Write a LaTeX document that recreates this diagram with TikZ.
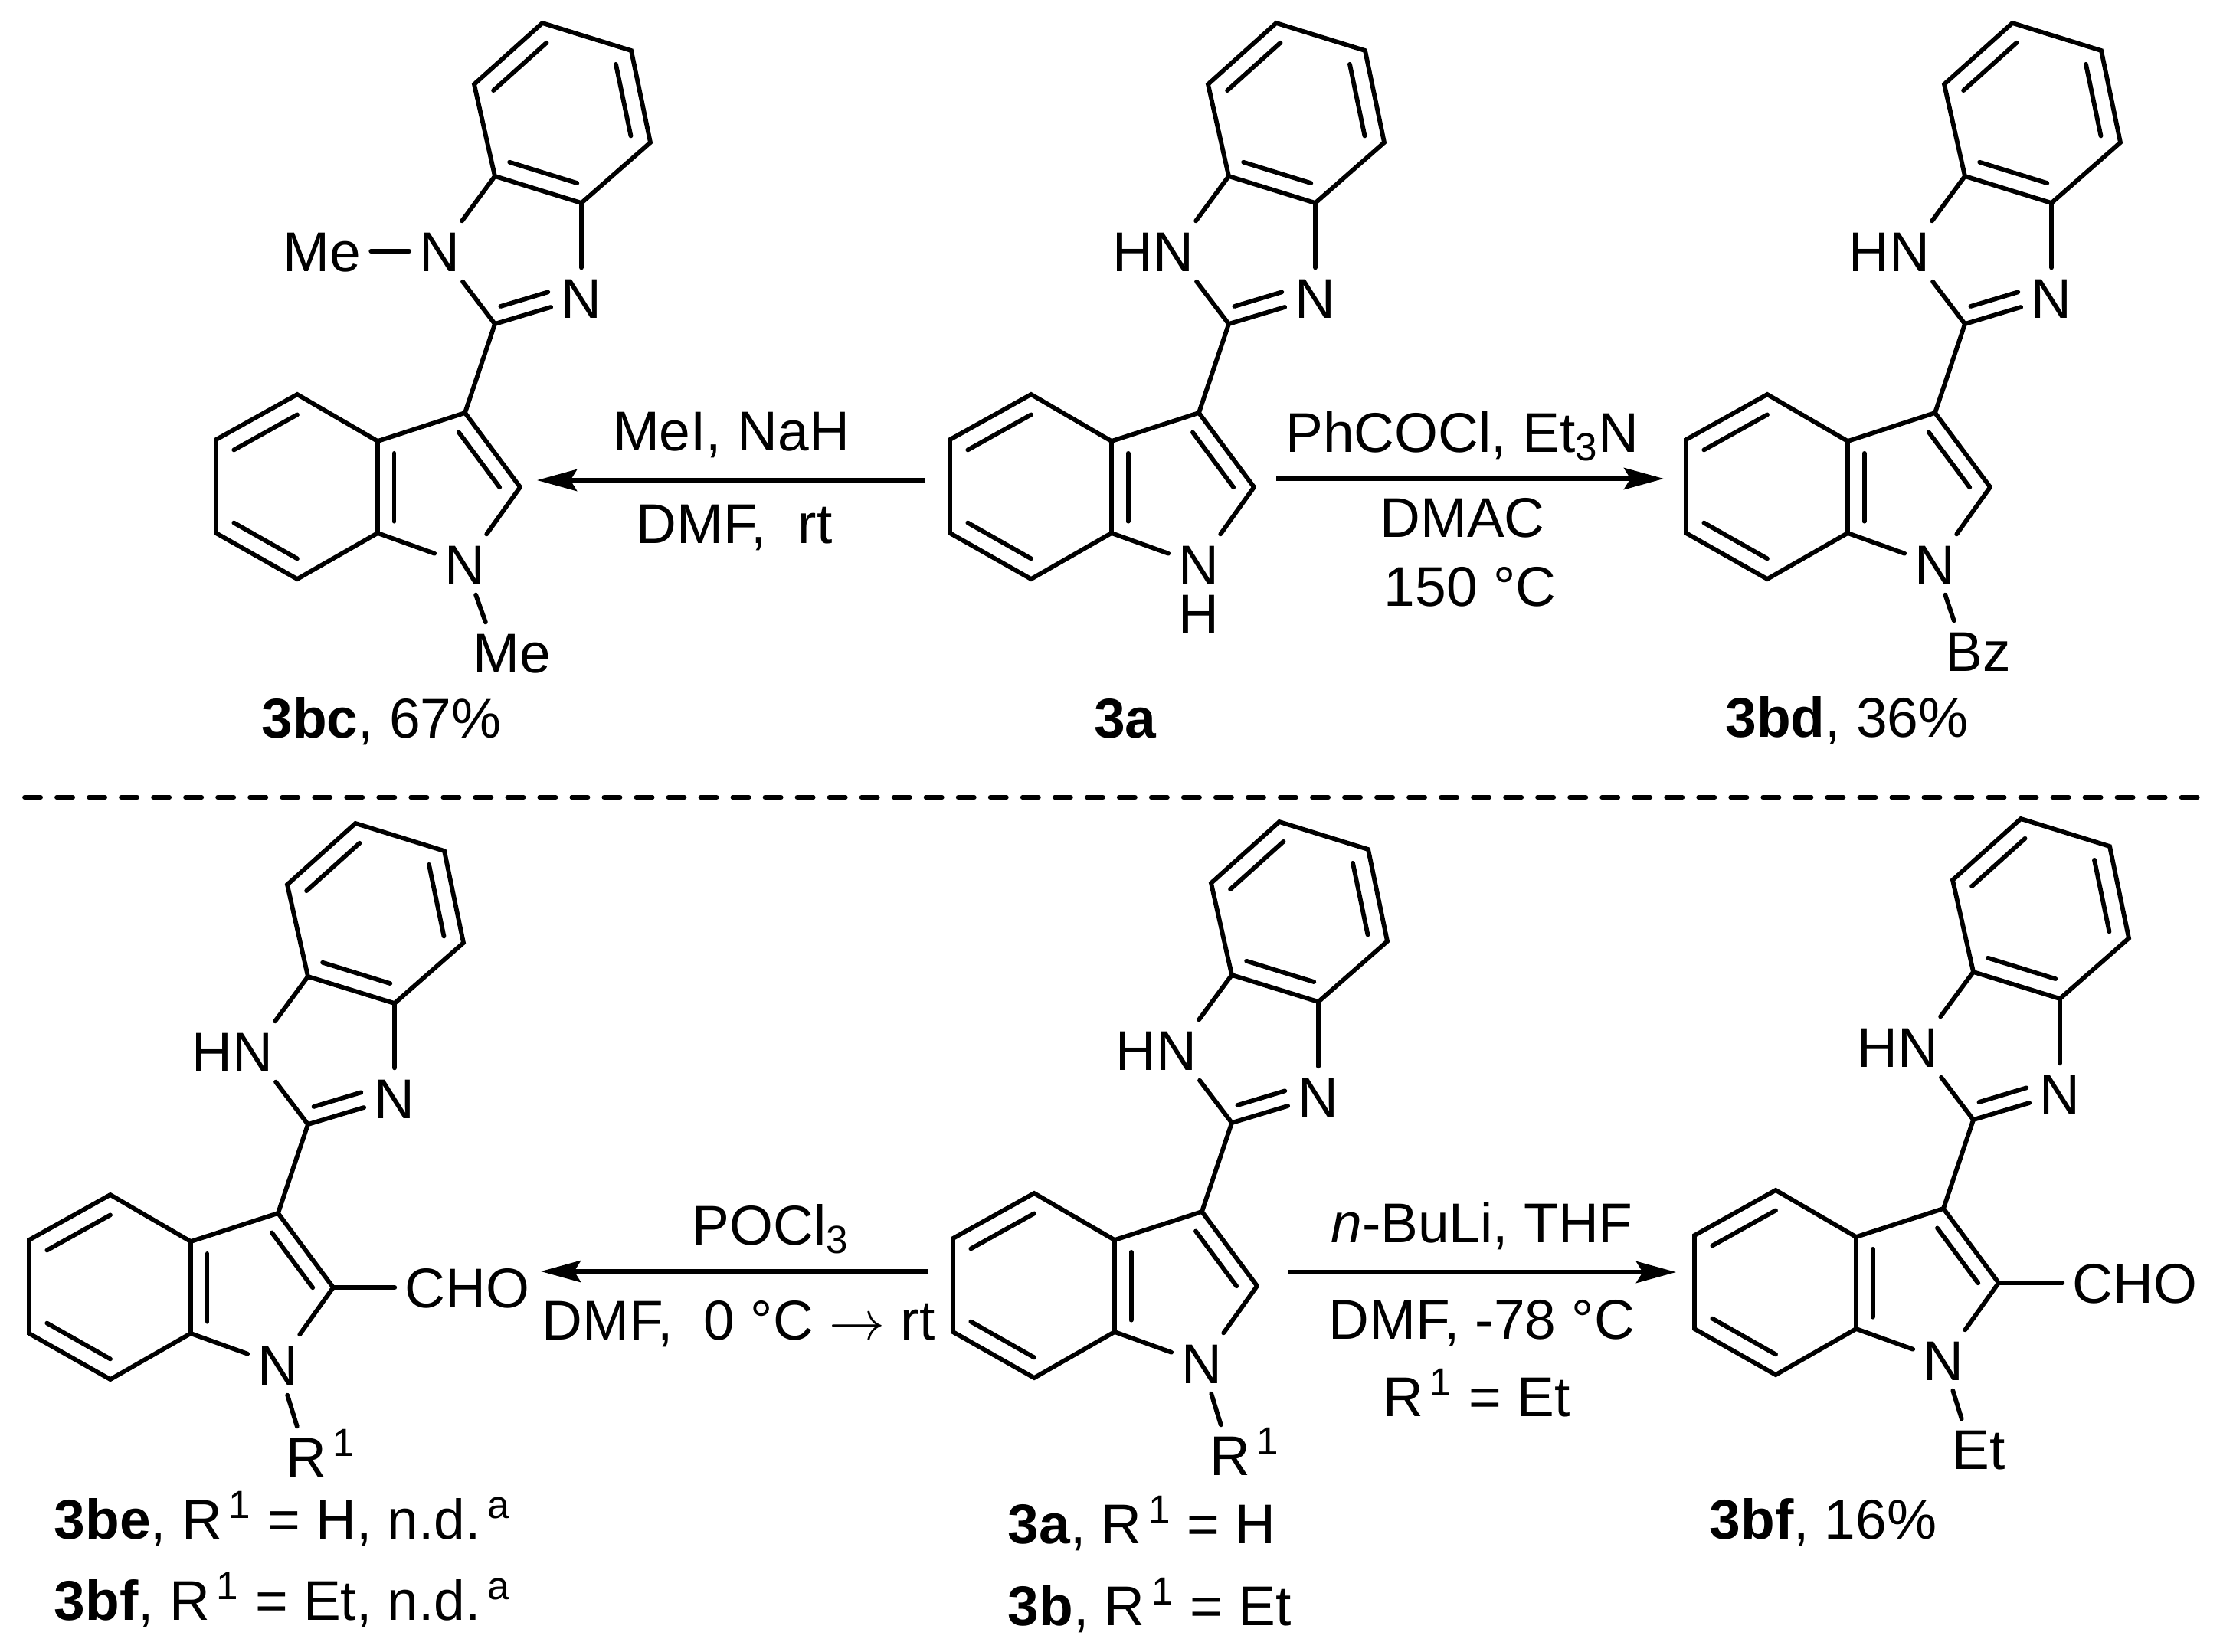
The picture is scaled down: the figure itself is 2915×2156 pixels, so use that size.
\documentclass[tikz,border=0pt]{standalone}
\usepackage{fontspec}
\setmainfont{Liberation Sans}
\usetikzlibrary{arrows.meta,positioning,calc}

\tikzset{
  atom/.style={inner sep=3pt, text height=14.9pt, text depth=0pt},
  lab/.style={inner sep=0pt},
  cond/.style={inner sep=0pt, text height=14.9pt, text depth=0pt},
  rxn/.style={-{Stealth[length=14.8pt,width=8pt,inset=2.4pt]}, line cap=butt},
  divider/.style={line cap=round, dash pattern=on 6pt off 5.95pt},
}

% inner line of a double bond, pulled towards a ring centre
\newcommand{\dbl}[4][.22]{\draw ($(#2)!#1!(#4)$) -- ($(#3)!#1!(#4)$);}

% 2-(indol-3-yl)benzimidazole, drawn at the 3a place and then shifted
\newcommand{\bimindole}[4]{
  \begin{scope}[shift={(#2,#3)}]
    \coordinate (#1-a1) at (1666,30);
    \coordinate (#1-a2) at (1782,66);
    \coordinate (#1-a3) at (1807,186);
    \coordinate (#1-a4) at (1717,265);
    \coordinate (#1-a5) at (1604,230);
    \coordinate (#1-a6) at (1577,110);
    \coordinate (#1-hexa) at (1691,147);
    \coordinate (#1-imid) at (1635,327);
    \node[atom] (#1-n3) at (1717,389) {N};
    \node[atom] (#1-nx) at (1532,328) {#4};
    \coordinate (#1-c2) at (1604,423);
    \coordinate (#1-c3) at (1565,539);
    \coordinate (#1-c3a) at (1451,576);
    \coordinate (#1-c4) at (1346,515);
    \coordinate (#1-c5) at (1240,574);
    \coordinate (#1-c6) at (1240,696);
    \coordinate (#1-c7) at (1346,756);
    \coordinate (#1-c7a) at (1451,696);
    \coordinate (#1-c2i) at (1637,636);
    \coordinate (#1-hexb) at (1346,635);
    \coordinate (#1-pyr) at (1534,637);
    \node[atom] (#1-n1) at (1565,737) {N};
    \draw[line join=miter] (#1-a1) -- (#1-a2) -- (#1-a3) -- (#1-a4) -- (#1-a5) -- (#1-a6) -- cycle;
    \draw (#1-a5) -- (#1-nx);
    \draw (#1-nx) -- (#1-c2);
    \draw (#1-a4) -- (#1-n3);
    \draw (#1-c2) -- (#1-n3);
    \draw (#1-c2) -- (#1-c3);
    \draw[line join=miter] (#1-c3a) -- (#1-c4) -- (#1-c5) -- (#1-c6) -- (#1-c7) -- (#1-c7a) -- cycle;
    \draw[line join=miter] (#1-c3a) -- (#1-c3) -- (#1-c2i);
    \draw (#1-c2i) -- (#1-n1);
    \draw (#1-c7a) -- (#1-n1);
    \dbl{#1-a6}{#1-a1}{#1-hexa}
    \dbl{#1-a2}{#1-a3}{#1-hexa}
    \dbl{#1-a4}{#1-a5}{#1-hexa}
    \dbl{#1-c4}{#1-c5}{#1-hexb}
    \dbl{#1-c6}{#1-c7}{#1-hexb}
    \dbl[.26]{#1-c3a}{#1-c7a}{#1-pyr}
    \dbl[.26]{#1-c3}{#1-c2i}{#1-pyr}
    \coordinate (#1-i1) at ($(#1-c2)!.24!(#1-imid)$);
    \coordinate (#1-i2) at ($(#1-n3)!.24!(#1-imid)$);
    \draw (#1-i1) -- ($(#1-i1)!.72!(#1-i2)$);
  \end{scope}
}

\begin{document}
\begin{tikzpicture}[x=0.01cm, y=-0.01cm, line width=1.65pt, line cap=round, font=\fontsize{20.8}{24}\selectfont]
  \useasboundingbox (0,0) rectangle (2915,2156);

  % top row
  \bimindole{bc}{-958}{0}{N}
  \bimindole{a}{0}{0}{\llap{H}N}
  \bimindole{bd}{961}{0}{\llap{H}N}

  \node[atom] (bc-me) at (420,328) {Me};
  \draw (bc-me) -- (bc-nx);
  \node[atom] (bc-r) at ($(bc-n1)+(41,115)$) {M\rlap{e}};
  \draw (bc-n1) -- (bc-r);
  \node[atom] (a-h) at ($(a-n1)+(0,64)$) {H};
  \node[atom] (bd-r) at ($(bd-n1)+(38,113)$) {B\rlap{z}};
  \draw (bd-n1) -- (bd-r);

  \node[lab, anchor=base] (bc-lab) at (498,963) {\textbf{3bc}, 67\%};
  \node[lab, anchor=base] (a-lab) at (1469,963) {\textbf{3a}};
  \node[lab, anchor=base] (bd-lab) at (2411,962) {\textbf{3bd}, 36\%};

  \coordinate (ml-s) at (1208,627);
  \coordinate (ml-e) at (701,627);
  \draw[rxn] (ml-s) -- node[cond, above=10pt] (ml-t) {MeI, NaH} node[cond, below=7.6pt, xshift=.4mm] (ml-b) {DMF,\ \ rt} (ml-e);

  \coordinate (mr-s) at (1666,625);
  \coordinate (mr-e) at (2172,625);
  \draw[rxn] (mr-s) -- node[cond, above=9pt, xshift=-1mm] (mr-t) {PhCOCl, Et\textsubscript{3}N} node[cond, below=6.1pt, xshift=-1mm] (mr-b) {DMAC} (mr-e);
  \node[cond, below=9.1pt of mr-b, xshift=1mm] (mr-c) {150 °C};

  % divider
  \coordinate (div-l) at (32,1041);
  \coordinate (div-r) at (2877,1041);
  \draw[divider] (div-l) -- (div-r);

  % bottom row
  \bimindole{be}{-1202}{1045}{\llap{H}N}
  \bimindole{b}{4}{1043}{\llap{H}N}
  \bimindole{bf}{972}{1039}{\llap{H}N}

  \node[atom] (be-r) at ($(be-n1)+(37,120)$) {R\rlap{\textsuperscript{\,1}}};
  \draw (be-n1) -- (be-r);
  \node[atom] (be-cho) at ($(be-c2i)+(175,0)$) {CHO};
  \draw (be-c2i) -- (be-cho);
  \node[atom] (b-r) at ($(b-n1)+(37,120)$) {R\rlap{\textsuperscript{\,1}}};
  \draw (b-n1) -- (b-r);
  \node[atom] (bf-r) at ($(bf-n1)+(36,116)$) {E\rlap{t}};
  \draw (bf-n1) -- (bf-r);
  \node[atom] (bf-cho) at ($(bf-c2i)+(178,0)$) {CHO};
  \draw (bf-c2i) -- (bf-cho);

  \node[lab, anchor=base west] (be-lab) at (68,2009) {\textbf{3be}, R\textsuperscript{\,1} = H, n.d.\textsuperscript{\,a}};
  \node[lab, anchor=base west] (bf-lab) at (68,2115) {\textbf{3bf}, R\textsuperscript{\,1} = Et, n.d.\textsuperscript{\,a}};
  \node[lab, anchor=base west] (a-lab2) at (1313,2015) {\textbf{3a}, R\textsuperscript{\,1} = H};
  \node[lab, anchor=base west] (b-lab) at (1313,2122) {\textbf{3b}, R\textsuperscript{\,1} = Et};
  \node[lab, anchor=base] (bf-lab2) at (2380,2009) {\textbf{3bf}, 16\%};

  \coordinate (vl-s) at (1212,1660);
  \coordinate (vl-e) at (706,1660);
  \draw[rxn] (vl-s) -- node[cond, above=9pt, xshift=4.7mm] (vl-t) {POCl\textsubscript{3}} node[cond, below=9.6pt, xshift=.5mm] (vl-b) {DMF,\ \ 0 °C $\rightarrow$ rt} (vl-e);

  \coordinate (vr-s) at (1681,1661);
  \coordinate (vr-e) at (2188,1661);
  \draw[rxn] (vr-s) -- node[cond, above=10pt] (vr-t) {\textit{n}-BuLi, THF} node[cond, below=9.1pt] (vr-b) {DMF, -78 °C} (vr-e);
  \node[cond, below=12.1pt of vr-b, xshift=-.7mm] (vr-c) {R\textsuperscript{\,1} = Et};
\end{tikzpicture}
\end{document}
